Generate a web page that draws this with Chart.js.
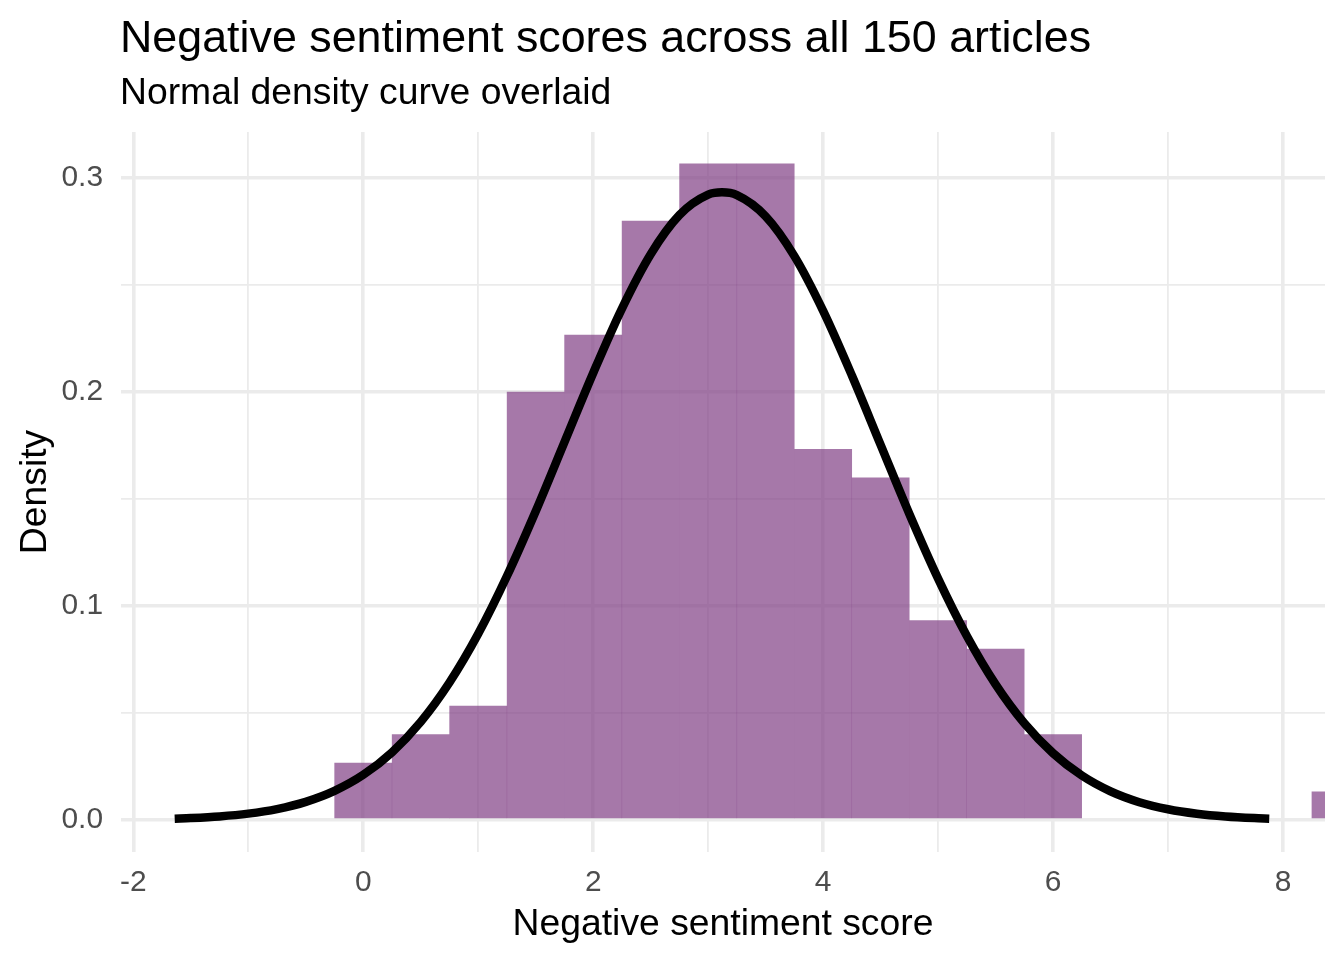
<!DOCTYPE html>
<html>
<head>
<meta charset="utf-8">
<script src="https://cdn.jsdelivr.net/npm/chart.js@4.4.1/dist/chart.umd.min.js"></script>
<style>
  html, body { margin: 0; padding: 0; background: #ffffff; }
  #wrap { width: 1344px; height: 960px; }
</style>
</head>
<body>
<div id="wrap"><canvas id="c" width="1344" height="960"></canvas></div>
<script>
// ---- Data ----
const titleText = "Negative sentiment scores across all 150 articles";
const subtitleText = "Normal density curve overlaid";
const xAxisTitle = "Negative sentiment score";
const yAxisTitle = "Density";

// histogram bins (bin width 0.5), centres and densities
const binCenters = [0, 0.5, 1, 1.5, 2, 2.5, 3, 3.5, 4, 4.5, 5, 5.5, 6, 8.5];
const binDensity = [0.0267, 0.04, 0.0533, 0.2, 0.2267, 0.28, 0.3067, 0.3067, 0.1733, 0.16, 0.0933, 0.08, 0.04, 0.0133];

// normal density curve
const curveX = [-1.64, -1.5, -1.25, -1, -0.75, -0.5, -0.25, 0, 0.25, 0.5, 0.75, 1, 1.25, 1.5, 1.75, 2, 2.25, 2.5, 2.75, 3, 3.12, 3.25, 3.5, 3.75, 4, 4.25, 4.5, 4.75, 5, 5.25, 5.5, 5.75, 6, 6.25, 6.5, 6.75, 7, 7.25, 7.5, 7.75, 7.88];
const curveY = [0.00064, 0.00092, 0.00168, 0.00298, 0.00512, 0.00849, 0.01361, 0.02111, 0.03165, 0.04587, 0.06426, 0.08702, 0.1140, 0.1443, 0.1766, 0.2089, 0.2390, 0.2644, 0.2827, 0.2922, 0.2933, 0.2920, 0.2821, 0.2635, 0.2379, 0.2077, 0.1753, 0.1430, 0.1128, 0.0860, 0.0634, 0.0452, 0.0312, 0.02076, 0.01337, 0.00832, 0.00501, 0.00292, 0.00164, 0.00089, 0.00064];

// axis ticks
const xTicks = [-2, -1, 0, 1, 2, 3, 4, 5, 6, 7, 8];
const xTickLabels = ["-2", "", "0", "", "2", "", "4", "", "6", "", "8"];
const yTicks = [0, 0.05, 0.1, 0.15, 0.2, 0.25, 0.3];
const yTickLabels = ["0.0", "", "0.1", "", "0.2", "", "0.3"];

// ---- Chart ----
const FONT = '"Liberation Sans", Arial, Helvetica, sans-serif';
const GRID = '#EBEBEB';

const titlePlugin = {
  id: 'ggTitle',
  afterDraw(chart) {
    const ctx = chart.ctx;
    ctx.save();
    ctx.fillStyle = '#000000';
    ctx.textAlign = 'left';
    ctx.textBaseline = 'alphabetic';
    ctx.font = '44.8px ' + FONT;
    ctx.fillText(titleText, 120, 52);
    ctx.font = '37.3px ' + FONT;
    ctx.fillText(subtitleText, 120, 104);
    ctx.restore();
  }
};

const histData = binCenters.map((x, i) => ({ x: x, y: binDensity[i] }));
const curveData = curveX.map((x, i) => ({ x: x, y: curveY[i] }));

new Chart(document.getElementById('c'), {
  type: 'bar',
  data: {
    datasets: [
      {
        type: 'line',
        data: curveData,
        borderColor: '#000000',
        borderWidth: 8.5,
        borderCapStyle: 'butt',
        pointRadius: 0,
        fill: false,
        tension: 0.4,
        cubicInterpolationMode: 'monotone',
        order: 0
      },
      {
        type: 'bar',
        data: histData,
        backgroundColor: 'rgba(128, 62, 132, 0.7)',
        borderWidth: 0,
        inflateAmount: 0.15,
        barPercentage: 1.0,
        categoryPercentage: 1.0,
        order: 1
      }
    ]
  },
  options: {
    responsive: false,
    animation: false,
    devicePixelRatio: 1,
    layout: { padding: { left: 0, right: 19, top: 132, bottom: 0 } },
    plugins: {
      legend: { display: false },
      tooltip: { enabled: false },
      title: { display: false }
    },
    scales: {
      x: {
        type: 'linear',
        min: -2.107,
        max: 8.365,
        offset: false,
        afterBuildTicks: (axis) => { axis.ticks = xTicks.map(v => ({ value: v })); },
        afterFit: (axis) => { axis.height = 108; },
        border: { display: false },
        grid: {
          offset: false,
          drawTicks: false,
          color: GRID,
          lineWidth: (ctx) => (ctx.tick && xTickLabels[xTicks.indexOf(ctx.tick.value)] !== '' ? 3.6 : 1.8)
        },
        ticks: {
          autoSkip: false,
          maxRotation: 0,
          padding: 13,
          color: '#4D4D4D',
          font: { family: FONT, size: 29.9 },
          callback: (value) => { const i = xTicks.indexOf(value); return i >= 0 ? xTickLabels[i] : ''; }
        },
        title: {
          display: true,
          text: xAxisTitle,
          color: '#000000',
          font: { family: FONT, size: 37.3, lineHeight: 1.0 },
          padding: { top: 0, bottom: 17 }
        }
      },
      y: {
        type: 'linear',
        min: -0.01495,
        max: 0.3215,
        afterBuildTicks: (axis) => { axis.ticks = yTicks.map(v => ({ value: v })); },
        afterFit: (axis) => { axis.width = 121; },
        border: { display: false },
        grid: {
          drawTicks: false,
          color: GRID,
          lineWidth: (ctx) => (ctx.tick && yTickLabels[yTicks.indexOf(ctx.tick.value)] !== '' ? 3.6 : 1.8)
        },
        ticks: {
          autoSkip: false,
          padding: 18,
          color: '#4D4D4D',
          font: { family: FONT, size: 29.9 },
          callback: (value) => { const i = yTicks.indexOf(value); return i >= 0 ? yTickLabels[i] : ''; }
        },
        title: {
          display: true,
          text: yAxisTitle,
          color: '#000000',
          font: { family: FONT, size: 37.3, lineHeight: 1.0 },
          padding: { top: 17, bottom: 0 }
        }
      }
    }
  },
  plugins: [titlePlugin]
});
</script>
</body>
</html>
